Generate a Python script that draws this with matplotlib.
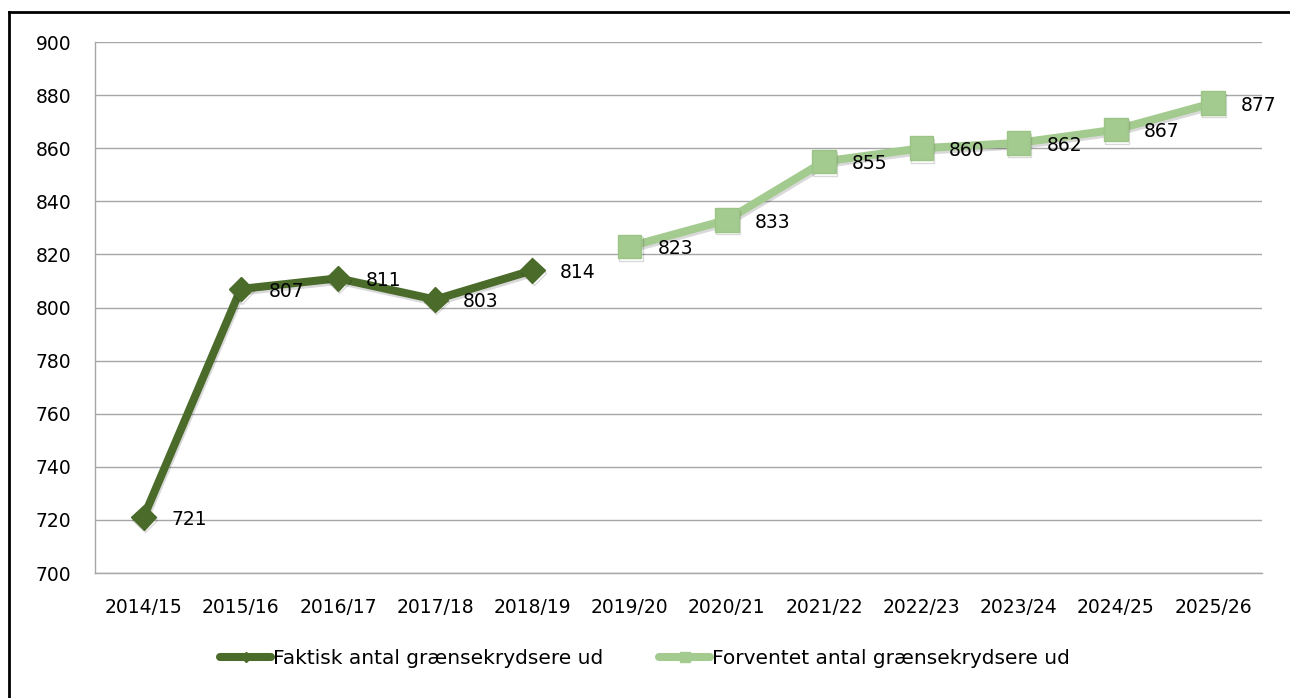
import matplotlib.pyplot as plt
import matplotlib.patheffects as pe
from matplotlib.lines import Line2D

# Data
years = ['2014/15', '2015/16', '2016/17', '2017/18', '2018/19', '2019/20',
         '2020/21', '2021/22', '2022/23', '2023/24', '2024/25', '2025/26']
faktisk = [721, 807, 811, 803, 814]
forventet = [823, 833, 855, 860, 862, 867, 877]
faktisk_label = 'Faktisk antal grænsekrydsere ud'
forventet_label = 'Forventet antal grænsekrydsere ud'

dark = '#4A6B2A'
light = '#A4CB8F'

plt.rcParams['font.family'] = ['DejaVu Sans']
fs = 13.5

fig = plt.figure(figsize=(12.9, 6.98), dpi=100)
ax = fig.add_axes([0.0736, 0.179, 0.9044, 0.7608])

x_f = list(range(len(faktisk)))
x_p = list(range(len(faktisk), len(faktisk) + len(forventet)))

shadow = [pe.SimpleLineShadow(offset=(0.8, -1.8), alpha=0.15, shadow_color='black'), pe.Normal()]

ax.plot(x_f, faktisk, color=dark, lw=5.8, marker='D', ms=12.5,
        solid_joinstyle='round', path_effects=shadow, zorder=3)
ax.plot(x_p, forventet, color=light, lw=5.8, marker='s', ms=17,
        markerfacecolor=light, markeredgecolor='#9DC487',
        solid_joinstyle='round', path_effects=shadow, zorder=3)

for x, v in zip(x_f + x_p, faktisk + forventet):
    ax.annotate(str(v), (x, v), xytext=(20, -1.5), textcoords='offset points',
                ha='left', va='center', fontsize=fs, color='black', zorder=4)

ax.set_xlim(-0.5, len(years) - 0.5)
ax.set_ylim(700, 900)
ax.set_yticks(range(700, 901, 20))
ax.set_xticks(range(len(years)))
ax.set_xticklabels(years)
ax.tick_params(axis='both', length=0, labelsize=fs, colors='black')
ax.tick_params(axis='y', pad=17)
ax.tick_params(axis='x', pad=18)
ax.grid(axis='y', color='#A6A6A6', lw=1)
ax.set_axisbelow(True)
for s in ['top', 'right']:
    ax.spines[s].set_visible(False)
for s in ['left', 'bottom']:
    ax.spines[s].set_color('#A6A6A6')
    ax.spines[s].set_linewidth(1)

handles = [
    Line2D([], [], color=dark, lw=5.8, marker='D', ms=5, solid_capstyle='round'),
    Line2D([], [], color=light, lw=5.8, marker='s', ms=7, solid_capstyle='round'),
]
fig.legend(handles, [faktisk_label, forventet_label], loc='center',
           bbox_to_anchor=(0.5, 1 - 659 / 698), ncol=2, frameon=False,
           fontsize=14.5, handlelength=2.5, handletextpad=0.1, columnspacing=2.8)

# outer frame (left and top edges visible)
fig.add_artist(Line2D([8.5 / 1290, 8.5 / 1290], [0, 1 - 11.5 / 698], color='black', lw=2,
                      transform=fig.transFigure))
fig.add_artist(Line2D([8.5 / 1290, 1], [1 - 11.5 / 698, 1 - 11.5 / 698], color='black', lw=2,
                      transform=fig.transFigure))

fig.savefig('out.png', dpi=100)
